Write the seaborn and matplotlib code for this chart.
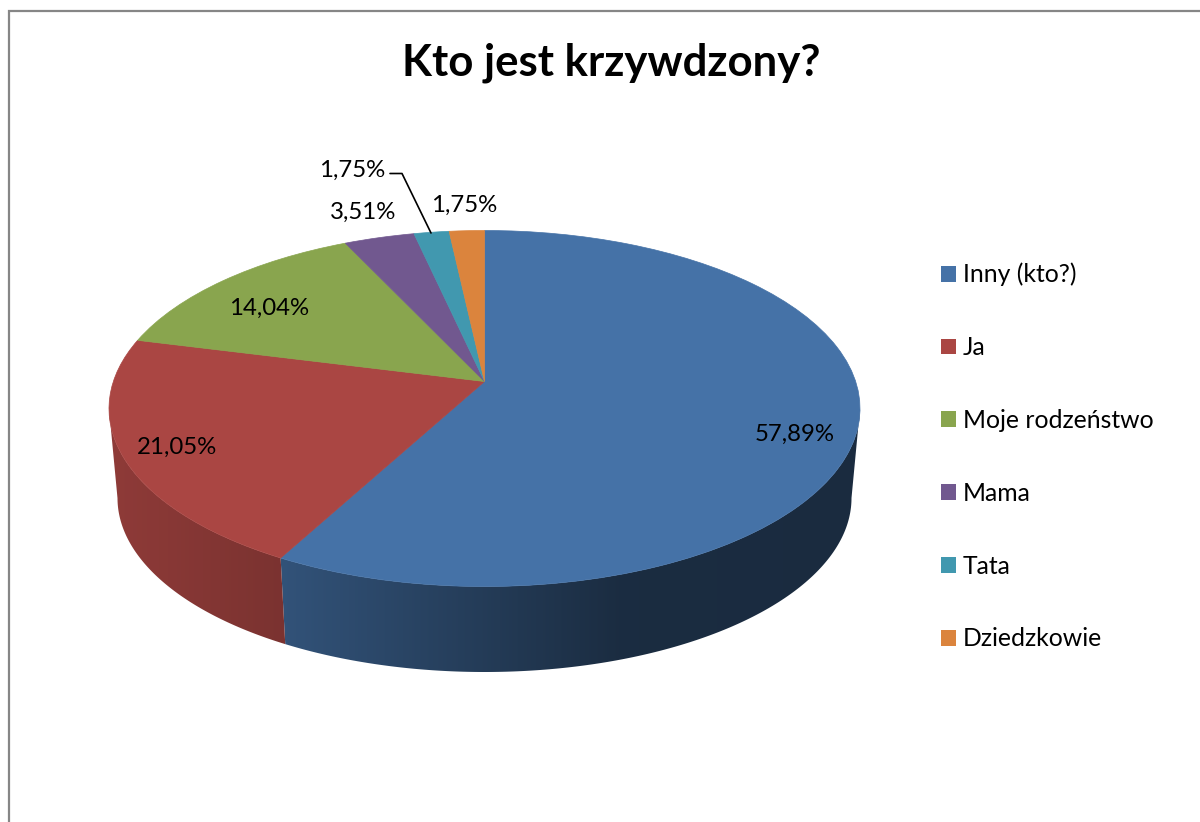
import numpy as np
import matplotlib
matplotlib.use("Agg")
import matplotlib.pyplot as plt
import seaborn as sns
from matplotlib.patches import Patch, Polygon
from matplotlib.transforms import Transform

# Data
categories = ["Inny (kto?)", "Ja", "Moje rodzeństwo", "Mama", "Tata", "Dziedzkowie"]
percents = [57.89, 21.05, 14.04, 3.51, 1.75, 1.75]
slice_colors = ["#4572A7", "#AA4643", "#89A54E", "#71588F", "#4198AF", "#DB843D"]
title = "Kto jest krzywdzony?"

sns.set_theme(style="white")
plt.rcParams["font.family"] = ["Lato", "DejaVu Sans"]
palette = sns.color_palette(slice_colors)

# Ellipses of the tilted disc, in pixels of the picture
CX, CY, RX, RY = 484.5, 408.5, 375.5, 178.0
BOT_CY, BOT_RX, BOT_RY = 498.0, 367.0, 174.0
APEX_SHIFT = 27.0  # the slices meet above the centre of the ellipse


class Tilt(Transform):
    # unit circle of the pie -> perspective view of it
    input_dims = 2
    output_dims = 2

    def transform_non_affine(self, values):
        values = np.asarray(values, dtype=float)
        k = APEX_SHIFT / RY
        w = 1 + k * values[:, 1]
        x = CX + RX * np.sqrt(1 - k ** 2) * values[:, 0] / w
        y = CY - RY * (values[:, 1] + k) / w
        return np.column_stack([x, y])


fig = plt.figure(figsize=(12, 8.22), dpi=100)
ax = fig.add_axes([0, 0, 1, 1])

wedges, _ = ax.pie(percents, colors=palette, startangle=90, counterclock=False,
                   wedgeprops=dict(linewidth=0.5))
tilt = Tilt()
for w in wedges:
    w.set_transform(tilt + ax.transData)
    w.set_edgecolor(w.get_facecolor())
    w.set_zorder(3)

# Side wall: a horizontal gradient clipped to the part under each slice
xs = np.arange(0, 1200)
shade = np.interp(xs, [108, 286, 620, 860], [0.84, 0.72, 0.39, 0.38])
for w, col in zip(wedges, palette):
    th = np.radians(np.linspace(w.theta1, w.theta2, 400))
    top = tilt.transform_non_affine(np.column_stack([np.cos(th), np.sin(th)]))
    top = top[top[:, 1] >= CY]
    if len(top) < 2:
        continue
    phi = np.arctan2((top[:, 1] - CY) / RY, (top[:, 0] - CX) / RX)
    bot = np.column_stack([CX + BOT_RX * np.cos(phi), BOT_CY + BOT_RY * np.sin(phi)])
    wall = Polygon(np.vstack([top, bot[::-1]]), closed=True, facecolor="none", edgecolor="none",
                   transform=ax.transData)
    ax.add_patch(wall)
    grad = shade[None, :, None] * np.array(col)[None, None, :]
    im = ax.imshow(grad, extent=(0, 1200, 822, 0), aspect="auto", zorder=2)
    im.set_clip_path(wall)

ax.set_aspect("auto")
ax.set_xlim(0, 1200)
ax.set_ylim(822, 0)
ax.axis("off")

# Chart frame, only its left and top sides are in the crop
ax.plot([9, 9, 1200], [822, 10.7, 10.7], color="#868686", lw=1.6, zorder=1,
        solid_joinstyle="miter")

ax.text(611, 63, title, ha="center", va="center", fontsize=31.5, fontweight="bold",
        color="black")

# Data labels
label_pos = [(795, 434), (177, 447), (269, 308), (363, 212), (352, 170), (464, 205)]
for (lx, ly), p in zip(label_pos, percents):
    ax.text(lx, ly, f"{p:.2f}%".replace(".", ","), ha="center", va="center",
            fontsize=17.3, color="black", zorder=5)

# Leader line of the Tata label
ax.plot([390, 402, 431], [173.5, 173.5, 233], color="black", lw=1.2, zorder=5)

handles = [Patch(facecolor=c, edgecolor="none") for c in palette]
ax.legend(handles, categories, loc="upper left", bbox_to_anchor=(921 / 1200, 1 - 243 / 822),
          frameon=False, fontsize=17.8, labelspacing=2.015, handlelength=0.61, handleheight=0.61,
          handletextpad=0.28, borderpad=0.3, labelcolor="black")

plt.savefig("out.png", dpi=100)
